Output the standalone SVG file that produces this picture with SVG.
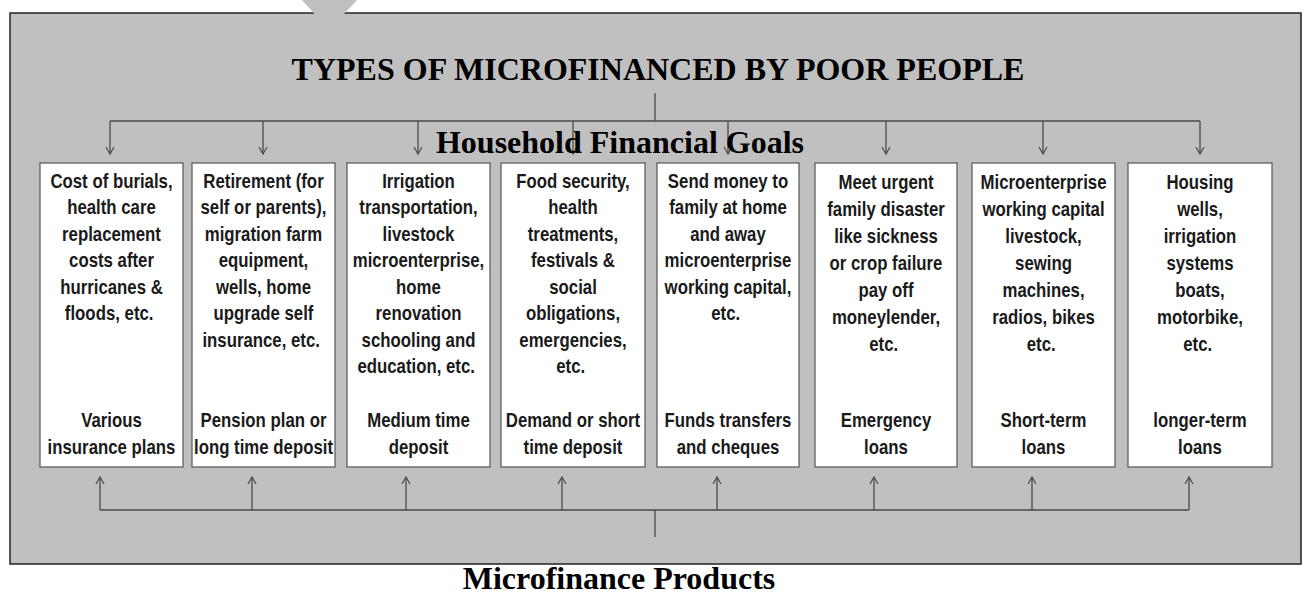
<svg xmlns="http://www.w3.org/2000/svg" width="1303" height="594" viewBox="0 0 1303 594">
<style>
.box{fill:#fff;stroke:#555;stroke-width:1.2}
.ln{fill:none;stroke:#4a4a4a;stroke-width:1.3}
.t{font-family:"Liberation Sans",Arial,sans-serif;font-weight:bold;font-size:20px;fill:#1a1a1a;text-anchor:middle}
.h{font-family:"Liberation Serif","Times New Roman",serif;font-weight:bold;font-size:32px;fill:#000;text-anchor:middle}
</style>
<defs>
<marker id="ah" viewBox="-9 -6 11 12" refX="0" refY="0" markerWidth="11" markerHeight="12" markerUnits="userSpaceOnUse" orient="auto">
<path d="M-7,-4 L0,0 L-7,4" fill="none" stroke="#4a4a4a" stroke-width="1.2"/>
</marker>
</defs>
<rect width="1303" height="594" fill="#fff"/>
<g id="panel">
<rect x="10" y="13" width="1291" height="551" fill="#c0c0c0"/>
<path d="M10,13 L1301,13 L1301,564 L10,564 Z" fill="none" stroke="#222" stroke-width="1.5"/>
<polygon points="302,0 357,0 329,30" fill="#c0c0c0"/>
</g>
<text id="title" class="h" x="658" y="80">TYPES OF MICROFINANCED BY POOR PEOPLE</text>
<g id="connectors">
<path class="ln" d="M655,93 V121 M110,121 H1200"/>
<path class="ln" marker-end="url(#ah)" d="M110,121 V154"/>
<path class="ln" marker-end="url(#ah)" d="M263,121 V154"/>
<path class="ln" marker-end="url(#ah)" d="M418,121 V154"/>
<path class="ln" marker-end="url(#ah)" d="M573,121 V154"/>
<path class="ln" marker-end="url(#ah)" d="M728,121 V154"/>
<path class="ln" marker-end="url(#ah)" d="M886,121 V154"/>
<path class="ln" marker-end="url(#ah)" d="M1043,121 V154"/>
<path class="ln" marker-end="url(#ah)" d="M1200,121 V154"/>
<path class="ln" d="M655,537 V510 M100,510 H1189"/>
<path class="ln" marker-end="url(#ah)" d="M100,510 V477"/>
<path class="ln" marker-end="url(#ah)" d="M252,510 V477"/>
<path class="ln" marker-end="url(#ah)" d="M406,510 V477"/>
<path class="ln" marker-end="url(#ah)" d="M562,510 V477"/>
<path class="ln" marker-end="url(#ah)" d="M717,510 V477"/>
<path class="ln" marker-end="url(#ah)" d="M874,510 V477"/>
<path class="ln" marker-end="url(#ah)" d="M1032,510 V477"/>
<path class="ln" marker-end="url(#ah)" d="M1189,510 V477"/>
</g>
<text id="goals" class="h" x="620" y="153">Household Financial Goals</text>
<g id="n1">
<rect class="box" x="40" y="163" width="143" height="304"/>
<g transform="translate(111.5,0) scale(0.84,1)"><text class="t">
<tspan x="0" y="188">Cost of burials,</tspan><tspan x="0" y="214.5">health care</tspan><tspan x="0" y="241">replacement</tspan><tspan x="0" y="267.5">costs after</tspan><tspan x="0" y="294">hurricanes &amp;</tspan><tspan x="0" y="320.5">floods, etc.</tspan>
<tspan x="0" y="427">Various</tspan><tspan x="0" y="454">insurance plans</tspan></text></g>
</g>
<g id="n2">
<rect class="box" x="192" y="163" width="143" height="304"/>
<g transform="translate(263.5,0) scale(0.84,1)"><text class="t">
<tspan x="0" y="188">Retirement (for</tspan><tspan x="0" y="214.5">self or parents),</tspan><tspan x="0" y="241">migration farm</tspan><tspan x="0" y="267.5">equipment,</tspan><tspan x="0" y="294">wells, home</tspan><tspan x="0" y="320.5">upgrade self</tspan><tspan x="0" y="347">insurance, etc.</tspan>
<tspan x="0" y="427">Pension plan or</tspan><tspan x="0" y="454">long time deposit</tspan></text></g>
</g>
<g id="n3">
<rect class="box" x="347" y="163" width="143" height="304"/>
<g transform="translate(418.5,0) scale(0.84,1)"><text class="t">
<tspan x="0" y="188">Irrigation</tspan><tspan x="0" y="214.5">transportation,</tspan><tspan x="0" y="241">livestock</tspan><tspan x="0" y="267.5">microenterprise,</tspan><tspan x="0" y="294">home</tspan><tspan x="0" y="320.5">renovation</tspan><tspan x="0" y="347">schooling and</tspan><tspan x="0" y="373.5">education, etc.</tspan>
<tspan x="0" y="427">Medium time</tspan><tspan x="0" y="454">deposit</tspan></text></g>
</g>
<g id="n4">
<rect class="box" x="501" y="163" width="144" height="304"/>
<g transform="translate(573,0) scale(0.84,1)"><text class="t">
<tspan x="0" y="188">Food security,</tspan><tspan x="0" y="214.5">health</tspan><tspan x="0" y="241">treatments,</tspan><tspan x="0" y="267.5">festivals &amp;</tspan><tspan x="0" y="294">social</tspan><tspan x="0" y="320.5">obligations,</tspan><tspan x="0" y="347">emergencies,</tspan><tspan x="0" y="373.5">etc.</tspan>
<tspan x="0" y="427">Demand or short</tspan><tspan x="0" y="454">time deposit</tspan></text></g>
</g>
<g id="n5">
<rect class="box" x="657" y="163" width="142" height="304"/>
<g transform="translate(728,0) scale(0.84,1)"><text class="t">
<tspan x="0" y="188">Send money to</tspan><tspan x="0" y="214.5">family at home</tspan><tspan x="0" y="241">and away</tspan><tspan x="0" y="267.5">microenterprise</tspan><tspan x="0" y="294">working capital,</tspan><tspan x="0" y="320.5">etc.</tspan>
<tspan x="0" y="427">Funds transfers</tspan><tspan x="0" y="454">and cheques</tspan></text></g>
</g>
<g id="n6">
<rect class="box" x="815" y="163" width="142" height="304"/>
<g transform="translate(886,0) scale(0.84,1)"><text class="t">
<tspan x="0" y="189">Meet urgent</tspan><tspan x="0" y="216">family disaster</tspan><tspan x="0" y="243">like sickness</tspan><tspan x="0" y="270">or crop failure</tspan><tspan x="0" y="297">pay off</tspan><tspan x="0" y="324">moneylender,</tspan><tspan x="0" y="351">etc.</tspan>
<tspan x="0" y="427">Emergency</tspan><tspan x="0" y="454">loans</tspan></text></g>
</g>
<g id="n7">
<rect class="box" x="972" y="163" width="143" height="304"/>
<g transform="translate(1043.5,0) scale(0.84,1)"><text class="t">
<tspan x="0" y="189">Microenterprise</tspan><tspan x="0" y="216">working capital</tspan><tspan x="0" y="243">livestock,</tspan><tspan x="0" y="270">sewing</tspan><tspan x="0" y="297">machines,</tspan><tspan x="0" y="324">radios, bikes</tspan><tspan x="0" y="351">etc.</tspan>
<tspan x="0" y="427">Short-term</tspan><tspan x="0" y="454">loans</tspan></text></g>
</g>
<g id="n8">
<rect class="box" x="1128" y="163" width="144" height="304"/>
<g transform="translate(1200,0) scale(0.84,1)"><text class="t">
<tspan x="0" y="189">Housing</tspan><tspan x="0" y="216">wells,</tspan><tspan x="0" y="243">irrigation</tspan><tspan x="0" y="270">systems</tspan><tspan x="0" y="297">boats,</tspan><tspan x="0" y="324">motorbike,</tspan><tspan x="0" y="351">etc.</tspan>
<tspan x="0" y="427">longer-term</tspan><tspan x="0" y="454">loans</tspan></text></g>
</g>
<text id="products" class="h" x="619" y="589">Microfinance Products</text>
</svg>
